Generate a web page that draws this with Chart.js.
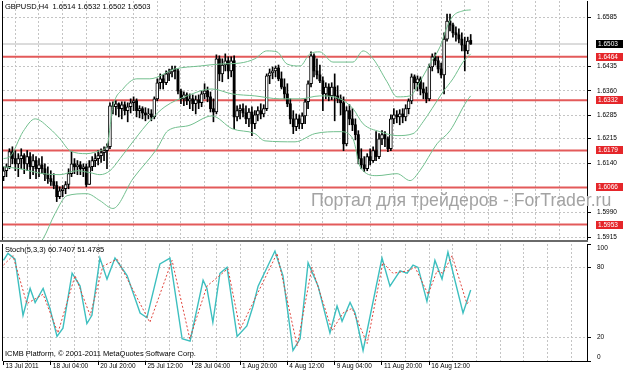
<!DOCTYPE html>
<html>
<head>
<meta charset="utf-8">
<script src="https://cdn.jsdelivr.net/npm/chart.js@4.4.1/dist/chart.umd.min.js"></script>
<style>
  html, body { margin: 0; padding: 0; background: #fff; }
  #wrap { position: relative; width: 623px; height: 373px; overflow: hidden; font-family: "Liberation Sans", Arial, sans-serif; }
  #priceCanvas { position: absolute; left: 0; top: 0; }
  #stochCanvas { position: absolute; left: 0; top: 242px; }
  .txt { position: absolute; white-space: nowrap; color: #000; font-size: 7.5px; line-height: 9px; }
  #mark { position: absolute; left: 311px; top: 190px; white-space: nowrap; color: #a3a3a3; font-size: 17.7px; line-height: 20px; }
</style>
</head>
<body>
<div id="wrap">
  <canvas id="priceCanvas" width="623" height="242"></canvas>
  <canvas id="stochCanvas" width="623" height="131"></canvas>
  <div class="txt" style="left:5px;top:2px;">GBPUSD,H4&nbsp; 1.6514 1.6532 1.6502 1.6503</div>
  <div class="txt" style="left:5px;top:245px;">Stoch(5,3,3) 60.7407 51.4785</div>
  <div class="txt" style="left:5px;top:349px;">ICMB Platform, © 2001-2011 MetaQuotes Software Corp.</div>
  <div id="mark">Портал для трейдеров - ForTrader.ru</div>
</div>
<script>
/* ------------------------------------------------------------
   data (H4 bars, index 0 = 13 Jul 2011)
   ------------------------------------------------------------ */
var timeLabels = ['13 Jul 2011', '18 Jul 04:00', '20 Jul 20:00', '25 Jul 12:00', '28 Jul 04:00',
                  '1 Aug 20:00', '4 Aug 12:00', '9 Aug 04:00', '11 Aug 20:00', '16 Aug 12:00'];

var openP = [
  1.6099,1.6117,1.6129,1.6175,1.6154,1.6138,1.6154,1.6163,1.6138,1.6160,
  1.6129,1.6148,1.6123,1.6135,1.6123,1.6105,1.6093,1.6084,1.6072,1.6038,
  1.6056,1.6062,1.6075,1.6108,1.6138,1.6129,1.6135,1.6123,1.6129,1.6075,
  1.6129,1.6148,1.6154,1.6163,1.6172,1.6178,1.6190,1.6315,1.6312,1.6321,
  1.6306,1.6318,1.6300,1.6312,1.6324,1.6330,1.6300,1.6306,1.6293,1.6287,
  1.6290,1.6281,1.6336,1.6385,1.6397,1.6385,1.6412,1.6418,1.6427,1.6421,
  1.6360,1.6336,1.6348,1.6330,1.6336,1.6321,1.6333,1.6324,1.6351,1.6360,
  1.6342,1.6306,1.6296,1.6458,1.6412,1.6439,1.6452,1.6421,1.6452,1.6281,
  1.6300,1.6306,1.6293,1.6275,1.6296,1.6260,1.6287,1.6300,1.6290,1.6306,
  1.6406,1.6415,1.6421,1.6430,1.6397,1.6372,1.6351,1.6321,1.6275,1.6251,
  1.6275,1.6260,1.6284,1.6327,1.6382,1.6467,1.6421,1.6409,1.6391,1.6351,
  1.6372,1.6345,1.6372,1.6345,1.6336,1.6324,1.6199,1.6300,1.6275,1.6257,
  1.6227,1.6154,1.6135,1.6123,1.6160,1.6148,1.6178,1.6160,1.6214,1.6227,
  1.6214,1.6184,1.6275,1.6287,1.6281,1.6290,1.6281,1.6306,1.6330,1.6403,
  1.6385,1.6397,1.6366,1.6354,1.6336,1.6433,1.6464,1.6452,1.6427,1.6409,
  1.6518,1.6573,1.6561,1.6537,1.6531,1.6518,1.6500,1.6482,1.6514
];
var highP = [
  1.6129,1.6138,1.6184,1.6190,1.6178,1.6169,1.6184,1.6169,1.6178,1.6172,
  1.6166,1.6160,1.6154,1.6160,1.6138,1.6129,1.6117,1.6108,1.6084,1.6068,
  1.6072,1.6084,1.6123,1.6175,1.6154,1.6148,1.6145,1.6138,1.6138,1.6148,
  1.6160,1.6169,1.6178,1.6184,1.6190,1.6199,1.6324,1.6327,1.6330,1.6324,
  1.6327,1.6327,1.6324,1.6336,1.6342,1.6336,1.6315,1.6312,1.6309,1.6306,
  1.6303,1.6342,1.6397,1.6412,1.6409,1.6421,1.6427,1.6436,1.6436,1.6427,
  1.6366,1.6357,1.6354,1.6351,1.6348,1.6345,1.6348,1.6360,1.6382,1.6372,
  1.6357,1.6336,1.6470,1.6467,1.6458,1.6473,1.6464,1.6464,1.6467,1.6315,
  1.6318,1.6321,1.6315,1.6306,1.6312,1.6300,1.6312,1.6321,1.6318,1.6412,
  1.6427,1.6433,1.6436,1.6439,1.6418,1.6397,1.6382,1.6336,1.6300,1.6290,
  1.6287,1.6293,1.6336,1.6391,1.6479,1.6473,1.6458,1.6439,1.6403,1.6385,
  1.6382,1.6385,1.6412,1.6376,1.6348,1.6342,1.6312,1.6318,1.6306,1.6275,
  1.6239,1.6184,1.6160,1.6169,1.6184,1.6190,1.6236,1.6230,1.6239,1.6236,
  1.6220,1.6287,1.6306,1.6300,1.6303,1.6306,1.6318,1.6336,1.6412,1.6409,
  1.6406,1.6403,1.6385,1.6372,1.6442,1.6473,1.6476,1.6464,1.6445,1.6537,
  1.6594,1.6594,1.6567,1.6555,1.6549,1.6537,1.6524,1.6524,1.6532
];
var lowP = [
  1.6087,1.6099,1.6123,1.6138,1.6117,1.6099,1.6123,1.6108,1.6117,1.6093,
  1.6105,1.6093,1.6099,1.6108,1.6087,1.6078,1.6072,1.6062,1.6023,1.6032,
  1.6038,1.6047,1.6062,1.6099,1.6108,1.6105,1.6105,1.6099,1.6068,1.6075,
  1.6117,1.6129,1.6135,1.6142,1.6148,1.6123,1.6184,1.6290,1.6287,1.6281,
  1.6275,1.6287,1.6266,1.6293,1.6300,1.6281,1.6278,1.6275,1.6269,1.6275,
  1.6269,1.6275,1.6330,1.6366,1.6366,1.6379,1.6391,1.6403,1.6397,1.6351,
  1.6321,1.6315,1.6318,1.6306,1.6300,1.6290,1.6306,1.6312,1.6336,1.6327,
  1.6296,1.6266,1.6290,1.6391,1.6388,1.6421,1.6397,1.6403,1.6245,1.6269,
  1.6275,1.6281,1.6260,1.6251,1.6224,1.6245,1.6269,1.6275,1.6281,1.6300,
  1.6382,1.6397,1.6403,1.6391,1.6366,1.6336,1.6312,1.6260,1.6230,1.6239,
  1.6245,1.6245,1.6260,1.6306,1.6372,1.6403,1.6397,1.6385,1.6300,1.6336,
  1.6330,1.6333,1.6269,1.6324,1.6287,1.6178,1.6193,1.6257,1.6239,1.6211,
  1.6138,1.6123,1.6114,1.6117,1.6135,1.6142,1.6148,1.6154,1.6196,1.6190,
  1.6175,1.6178,1.6260,1.6263,1.6257,1.6263,1.6269,1.6290,1.6321,1.6366,
  1.6360,1.6348,1.6336,1.6324,1.6330,1.6421,1.6439,1.6415,1.6400,1.6351,
  1.6512,1.6543,1.6524,1.6512,1.6506,1.6482,1.6421,1.6473,1.6502
];
var closeP = [
  1.6117,1.6129,1.6175,1.6154,1.6138,1.6154,1.6163,1.6138,1.6160,1.6129,
  1.6148,1.6123,1.6135,1.6123,1.6105,1.6093,1.6084,1.6072,1.6038,1.6056,
  1.6062,1.6075,1.6108,1.6138,1.6129,1.6135,1.6123,1.6129,1.6075,1.6129,
  1.6148,1.6154,1.6163,1.6172,1.6178,1.6190,1.6315,1.6312,1.6321,1.6306,
  1.6318,1.6300,1.6312,1.6324,1.6330,1.6300,1.6306,1.6293,1.6287,1.6290,
  1.6281,1.6336,1.6385,1.6397,1.6385,1.6412,1.6418,1.6427,1.6421,1.6360,
  1.6336,1.6348,1.6330,1.6336,1.6321,1.6333,1.6324,1.6351,1.6360,1.6342,
  1.6306,1.6296,1.6458,1.6412,1.6439,1.6452,1.6421,1.6452,1.6281,1.6300,
  1.6306,1.6293,1.6275,1.6296,1.6260,1.6287,1.6300,1.6290,1.6306,1.6406,
  1.6415,1.6421,1.6430,1.6397,1.6372,1.6351,1.6321,1.6275,1.6251,1.6275,
  1.6260,1.6284,1.6327,1.6382,1.6467,1.6421,1.6409,1.6391,1.6351,1.6372,
  1.6345,1.6372,1.6345,1.6336,1.6324,1.6199,1.6300,1.6275,1.6257,1.6227,
  1.6154,1.6135,1.6123,1.6160,1.6148,1.6178,1.6160,1.6214,1.6227,1.6214,
  1.6184,1.6275,1.6287,1.6281,1.6290,1.6281,1.6306,1.6330,1.6403,1.6385,
  1.6397,1.6366,1.6354,1.6336,1.6433,1.6464,1.6452,1.6427,1.6409,1.6518,
  1.6573,1.6561,1.6537,1.6531,1.6518,1.6500,1.6482,1.6512,1.6503
];

// Bollinger bands, read at [bar, price]
var bandUpper = [[0,1.6154],[2.2,1.6160],[6.6,1.6236],[10.7,1.6275],[15.7,1.6245],[19.1,1.6214],[22.5,1.6178],
  [28.2,1.6169],[32.6,1.6178],[35,1.6193],[37,1.6312],[40.4,1.6366],[45.1,1.6397],[49.5,1.6397],[58,1.6427],
  [66.5,1.6436],[73.2,1.6442],[80,1.6445],[85,1.6458],[89,1.6482],[92.5,1.6479],[95.9,1.6442],[100.3,1.6436],
  [103.6,1.6473],[107,1.6479],[111.4,1.6448],[118.2,1.6448],[121.6,1.6482],[125,1.6458],[129.7,1.6388],
  [133.1,1.6342],[137.5,1.6345],[140.8,1.6388],[144.2,1.6442],[147.6,1.6494],[150,1.6555],[152,1.6588],
  [155.4,1.6604],[158,1.6607]];
var bandMiddle = [[0,1.6129],[5.6,1.6123],[13.4,1.6108],[19.1,1.6105],[24.9,1.6117],[29.3,1.6111],[32.6,1.6105],
  [36,1.6117],[39.4,1.6154],[44.5,1.6214],[49.5,1.6269],[54.6,1.6312],[62.1,1.6345],[70.5,1.6366],[77.3,1.6351],
  [85,1.6345],[93.5,1.6336],[100.3,1.6336],[107,1.6345],[113.8,1.6336],[118.2,1.6306],[121.6,1.6260],
  [127.3,1.6236],[133.1,1.6224],[138.5,1.6230],[141.9,1.6266],[144.9,1.6306],[148.6,1.6357],[152,1.6397],
  [155.4,1.6448],[158,1.6473]];
var bandLower = [[9,1.5865],[13.4,1.5910],[17.4,1.5986],[21.5,1.6041],[28.2,1.6047],[32.6,1.6026],[37,1.6002],
  [43.8,1.6093],[51.9,1.6184],[55.6,1.6239],[62.4,1.6254],[70.5,1.6284],[77.3,1.6245],[85,1.6230],[88.4,1.6208],
  [98.6,1.6205],[105.3,1.6230],[113.8,1.6236],[118.2,1.6214],[120.6,1.6129],[126.3,1.6102],[133.1,1.6108],
  [137.5,1.6087],[140.8,1.6117],[146.6,1.6199],[151,1.6239],[156.7,1.6330],[158,1.6345]];

// Stochastic (5,3,3), read at [bar, value]
var stochMain = [[0,86],[1.5,92],[3.9,87],[6.6,39],[9,62],[10.7,50],[13.4,62],[15.7,45],[18.1,21],[20.1,28],
  [23.2,75],[25.9,64],[28.2,32],[29.9,39],[32.6,88],[35,70],[37.7,88],[41.8,73],[46.2,41],[48.5,37],[52.9,83],
  [56.3,88],[60.4,19],[63.1,17],[67.5,69],[68.8,62],[70.8,33],[73.2,75],[75.6,80],[79,21],[82.3,30],[84.4,47],
  [86.1,64],[91.8,94],[94.5,73],[97.9,9],[100.3,19],[103,84],[106.4,64],[110.4,24],[112.8,47],[114.5,34],
  [117.2,50],[118.9,41],[121.6,9],[128,88],[130.7,64],[134.1,77],[136.5,75],[138.5,82],[140.2,80],[143.2,51],
  [145.9,86],[148.3,70],[150.3,93],[155.4,41],[158,60.74]];
var stochSignal = [[0,82],[3.2,90],[7.9,49],[13.4,57],[18.4,24],[24.2,73],[29.3,39],[33.6,81],[38.4,87],
  [49.5,33],[57,86],[63,19],[68.8,64],[75.9,79],[80,27],[92.5,92],[99.3,13],[104.3,80],[111.1,26],[114.8,41],
  [117.9,45],[123,15],[128.3,84],[131.7,75],[136.5,77],[139.2,80],[143.6,57],[146.6,77],[148.6,75],[151.7,90],
  [156.7,49],[158,51.48]];

var levels = [1.6464, 1.6332, 1.6179, 1.6066, 1.5953];
var priceTicks = [1.5915, 1.5990, 1.6140, 1.6215, 1.6285, 1.6360, 1.6435, 1.6585];
var stochLevels = [20, 80];

/* ------------------------------------------------------------
   layout / style
   ------------------------------------------------------------ */
var XMIN = -0.17, XMAX = 197.33;
var GRID = '#c4c4c4';
var FONT = '"Liberation Sans", Arial, sans-serif';

Chart.defaults.font.family = FONT;
Chart.defaults.font.size = 6.5;
Chart.defaults.color = '#000';
Chart.defaults.animation = false;

function toXY(pairs) { return pairs.map(function(p) { return { x: p[0], y: p[1] }; }); }

function xGridColor(ctx) {
  if (!ctx.tick) return 'rgba(0,0,0,0)';
  return ctx.tick.value % 8 === 0 && ctx.tick.value > 0 ? GRID : 'rgba(0,0,0,0)';
}
function xBuildTicks(scale) {
  var t = [];
  for (var i = 0; i <= 192; i += 8) t.push({ value: i });
  scale.ticks = t;
}
// keep label overhang from shrinking the plot area
function noPad(s) {
  s.paddingTop = 0; s.paddingBottom = 0; s.paddingLeft = 0; s.paddingRight = 0;
}

// left frame line + separator under the price window
var framePlugin = {
  id: 'frame',
  afterDraw: function(chart, args, opts) {
    var ctx = chart.ctx, a = chart.chartArea;
    ctx.save();
    ctx.strokeStyle = '#000';
    ctx.lineWidth = 1;
    ctx.beginPath();
    ctx.moveTo(a.left - 0.5, a.top);
    ctx.lineTo(a.left - 0.5, a.bottom);
    ctx.stroke();
    if (opts.separator) {
      ctx.fillStyle = '#6a6a6a';
      ctx.fillRect(0, a.bottom, a.right + 1, 2);
    }
    ctx.restore();
  }
};

// price tags on the right axis
function drawTag(ctx, py, text, bg) {
  var y = Math.round(py);
  ctx.fillStyle = bg;
  ctx.fillRect(596, y - 4, 27, 8);
  ctx.fillStyle = '#fff';
  ctx.fillText(text, 598, y + 0.5);
}
var tagPlugin = {
  id: 'tags',
  afterDraw: function(chart) {
    var ctx = chart.ctx, ys = chart.scales.y;
    ctx.save();
    ctx.font = '6.5px ' + FONT;
    ctx.textBaseline = 'middle';
    levels.forEach(function(v) { drawTag(ctx, ys.getPixelForValue(v), v.toFixed(4), '#e5262a'); });
    var last = closeP[closeP.length - 1];
    drawTag(ctx, ys.getPixelForValue(last), last.toFixed(4), '#000');
    ctx.restore();
  }
};

// 0 / 100 labels of the stochastic window sit inside the window
var stochEdgePlugin = {
  id: 'stochEdge',
  afterDraw: function(chart) {
    var ctx = chart.ctx, ys = chart.scales.y;
    ctx.save();
    ctx.font = '6.5px ' + FONT;
    ctx.fillStyle = '#000';
    ctx.textBaseline = 'middle';
    ctx.fillText('100', 597, ys.getPixelForValue(100) + 4);
    ctx.fillText('0', 597, ys.getPixelForValue(0) - 4);
    ctx.restore();
  }
};

/* ------------------------------------------------------------
   price window
   ------------------------------------------------------------ */
function createPriceChart() {
  var datasets = [];

  levels.forEach(function(v) {
    datasets.push({ type: 'line', data: [{ x: XMIN, y: v }, { x: XMAX, y: v }],
      borderColor: '#e35a5a', borderWidth: 2, pointRadius: 0, order: 6 });
  });
  var last = closeP[closeP.length - 1];
  datasets.push({ type: 'line', data: [{ x: XMIN, y: last }, { x: XMAX, y: last }],
    borderColor: '#b8b8b8', borderWidth: 1, pointRadius: 0, order: 6 });

  var bulls = [], bears = [];
  openP.forEach(function(o, i) {
    if (closeP[i] >= o) bulls.push({ x: i, y: [o, closeP[i]] });
    else bears.push({ x: i, y: [o, closeP[i]] });
  });

  datasets.push({
    type: 'bar', grouped: false, order: 4, barThickness: 1,
    data: lowP.map(function(l, i) { return { x: i, y: [l, highP[i]] }; }),
    backgroundColor: '#000'
  });
  datasets.push({
    type: 'bar', grouped: false, order: 3, barThickness: 3, data: bulls,
    backgroundColor: '#fff', borderColor: '#000', borderWidth: 1, borderSkipped: false
  });
  datasets.push({
    type: 'bar', grouped: false, order: 3, barThickness: 2.2, data: bears,
    backgroundColor: '#000'
  });

  [bandUpper, bandMiddle, bandLower].forEach(function(b) {
    datasets.push({ type: 'line', data: toXY(b), borderColor: '#72bf8e', borderWidth: 1,
      pointRadius: 0, cubicInterpolationMode: 'monotone', order: 1 });
  });

  new Chart(document.getElementById('priceCanvas'), {
    type: 'bar',
    data: { datasets: datasets },
    options: {
      responsive: false,
      devicePixelRatio: 1,
      layout: { padding: { left: 3, top: 1, right: 0, bottom: 2 } },
      plugins: { legend: { display: false }, tooltip: { enabled: false }, frame: { separator: true } },
      scales: {
        x: {
          type: 'linear', min: XMIN, max: XMAX, offset: false,
          afterBuildTicks: xBuildTicks,
          afterFit: function(s) { s.height = 0; noPad(s); },
          ticks: { display: false },
          grid: { color: xGridColor, drawTicks: false },
          border: { display: false, dash: [2, 2] }
        },
        y: {
          position: 'right', min: 1.5906, max: 1.6634,
          afterBuildTicks: function(s) { s.ticks = priceTicks.map(function(v) { return { value: v }; }); },
          afterFit: function(s) { s.width = 36; noPad(s); },
          ticks: { padding: 6, callback: function(v) { return v.toFixed(4); } },
          grid: { color: GRID, tickColor: '#000', tickLength: 4 },
          border: { color: '#000', dash: [2, 2] }
        }
      }
    },
    plugins: [framePlugin, tagPlugin]
  });
}

/* ------------------------------------------------------------
   stochastic window
   ------------------------------------------------------------ */
function createStochChart() {
  new Chart(document.getElementById('stochCanvas'), {
    type: 'line',
    data: {
      datasets: [
        { data: toXY(stochSignal), borderColor: '#e0443c', borderWidth: 1, borderDash: [2, 2], pointRadius: 0 },
        { data: toXY(stochMain), borderColor: '#3dbfbf', borderWidth: 1.4, pointRadius: 0 }
      ]
    },
    options: {
      responsive: false,
      devicePixelRatio: 1,
      layout: { padding: { left: 3, top: 2, right: 0, bottom: 0 } },
      plugins: { legend: { display: false }, tooltip: { enabled: false }, frame: {} },
      scales: {
        x: {
          type: 'linear', min: XMIN, max: XMAX, offset: false,
          afterBuildTicks: xBuildTicks,
          afterFit: function(s) { s.height = 12; noPad(s); },
          ticks: {
            autoSkip: false, maxRotation: 0, align: 'start', labelOffset: 2, padding: -3,
            callback: function(v) { return v % 16 === 0 && v / 16 < timeLabels.length ? timeLabels[v / 16] : ''; }
          },
          grid: {
            color: xGridColor, tickLength: 4,
            tickColor: function(ctx) { return ctx.tick && ctx.tick.value % 16 === 0 && ctx.tick.value <= 144 ? '#000' : 'rgba(0,0,0,0)'; }
          },
          border: { color: '#000', dash: [2, 2] }
        },
        y: {
          position: 'right', min: 0, max: 100,
          afterBuildTicks: function(s) { s.ticks = [0, 20, 80, 100].map(function(v) { return { value: v }; }); },
          afterFit: function(s) { s.width = 36; noPad(s); },
          ticks: { padding: 6, callback: function(v) { return stochLevels.indexOf(v) >= 0 ? String(v) : ''; } },
          grid: {
            color: function(ctx) { return ctx.tick && stochLevels.indexOf(ctx.tick.value) >= 0 ? GRID : 'rgba(0,0,0,0)'; },
            tickColor: '#000', tickLength: 4
          },
          border: { color: '#000', dash: [2, 2] }
        }
      }
    },
    plugins: [framePlugin, stochEdgePlugin]
  });
}

createPriceChart();
createStochChart();
</script>
</body>
</html>
